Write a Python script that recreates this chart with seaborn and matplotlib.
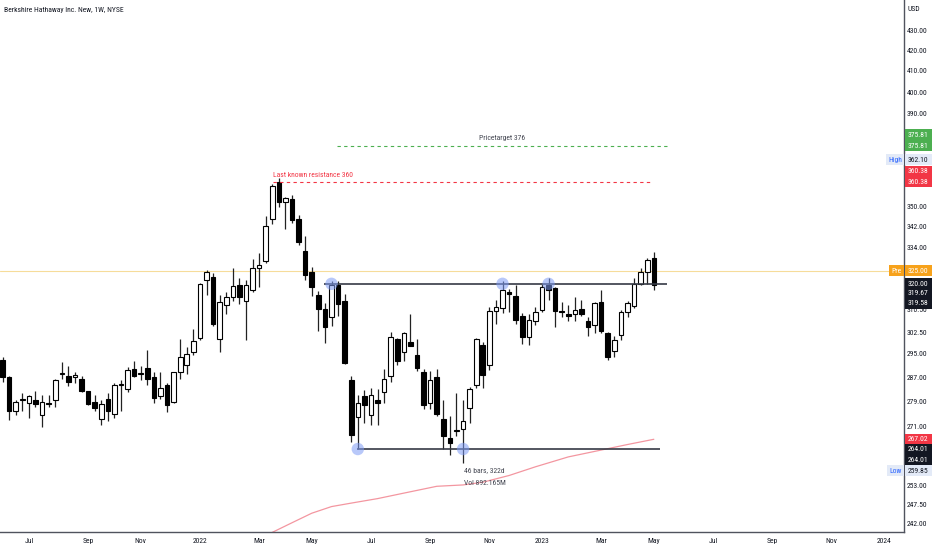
import numpy as np
import pandas as pd
import matplotlib
matplotlib.use("Agg")
import matplotlib.pyplot as plt
import matplotlib.dates as mdates
from matplotlib.ticker import FixedLocator, NullLocator, FuncFormatter
from matplotlib.patches import Rectangle
from matplotlib import font_manager
import seaborn as sns

# ---------------- data ----------------
start_week = "2021-06-07"
opens = [292.8, 287.0, 276.0, 279.4, 278.7, 279.5, 274.6, 278.7, 279.5, 288.0,
         287.4, 287.0, 286.6, 282.3, 278.8, 273.3, 279.9, 275.1, 284.6, 283.0,
         289.9, 288.2, 290.1, 287.0, 280.9, 284.4, 279.0, 288.9, 291.2, 295.6,
         300.3, 321.6, 322.4, 300.2, 312.3, 315.3, 319.7, 313.8, 317.7, 325.9,
         328.7, 344.9, 360.3, 352.1, 353.1, 345.0, 332.6, 324.6, 315.8, 310.6,
         307.7, 319.4, 313.6, 286.0, 274.0, 280.8, 274.6, 279.6, 282.0, 287.4,
         300.0, 295.5, 299.2, 294.6, 288.9, 278.4, 287.2, 273.3, 267.3, 269.5,
         270.1, 276.8, 284.4, 297.9, 291.2, 310.2, 311.1, 316.8, 315.6, 308.3,
         300.7, 306.6, 310.4, 319.4, 318.6, 310.2, 309.0, 308.8, 310.6, 306.6,
         304.9, 313.2, 302.2, 295.8, 301.4, 309.7, 311.9, 320.0, 324.6, 329.6]
closes = [287.2, 275.9, 278.8, 279.7, 280.9, 278.2, 279.0, 278.2, 286.1, 288.3,
          285.6, 287.9, 282.3, 278.1, 276.8, 278.1, 276.0, 284.4, 284.9, 289.6,
          287.4, 288.4, 286.3, 280.1, 283.3, 277.9, 288.7, 294.0, 294.9, 299.4,
          320.0, 324.3, 305.4, 313.2, 315.3, 319.1, 315.3, 319.4, 325.8, 327.1,
          342.3, 358.8, 352.1, 353.5, 344.7, 336.0, 323.3, 319.0, 310.6, 304.4,
          319.4, 312.5, 291.9, 268.3, 278.7, 277.9, 281.3, 278.6, 286.4, 300.9,
          292.5, 302.2, 297.5, 290.0, 277.9, 286.1, 275.0, 268.0, 265.9, 269.8,
          272.8, 283.0, 300.0, 287.7, 310.2, 311.3, 317.8, 316.4, 306.8, 300.7,
          306.8, 309.7, 319.0, 317.8, 310.2, 309.5, 308.1, 310.4, 308.8, 304.4,
          312.8, 302.8, 294.0, 299.7, 309.5, 313.0, 320.0, 324.6, 329.0, 319.67]
highs = [294.0, 287.5, 279.5, 281.7, 281.2, 282.6, 281.3, 281.2, 286.4, 292.2,
         290.8, 288.9, 287.3, 282.6, 281.1, 279.5, 281.7, 285.1, 286.1, 290.3,
         292.6, 290.8, 296.1, 288.9, 288.9, 285.0, 288.9, 300.0, 297.4, 303.5,
         320.4, 325.2, 324.0, 315.9, 317.1, 325.9, 322.0, 321.4, 329.3, 331.6,
         346.3, 359.6, 362.1, 354.2, 354.9, 346.5, 338.2, 326.5, 317.5, 313.0,
         321.0, 321.0, 316.3, 287.4, 281.3, 282.8, 283.3, 283.0, 289.9, 302.6,
         300.4, 302.4, 308.8, 300.0, 289.9, 289.0, 289.9, 279.5, 274.2, 281.7,
         279.5, 283.9, 300.4, 299.2, 311.4, 314.0, 321.0, 318.1, 319.4, 309.3,
         308.8, 311.3, 320.0, 322.0, 318.8, 313.4, 312.3, 315.2, 314.0, 307.8,
         313.4, 317.7, 302.7, 301.0, 310.4, 313.7, 322.0, 325.9, 329.6, 332.1]
lows = [285.5, 273.1, 274.6, 276.0, 273.7, 277.3, 271.0, 277.3, 277.3, 286.3,
        284.0, 285.0, 282.0, 277.8, 276.0, 271.4, 272.9, 273.7, 276.1, 282.2,
        287.2, 286.1, 284.4, 278.4, 279.9, 275.5, 278.4, 286.3, 288.2, 294.6,
        299.8, 315.9, 304.8, 295.5, 308.8, 313.5, 312.6, 299.7, 317.1, 318.7,
        327.8, 343.2, 349.8, 340.9, 343.4, 334.9, 321.4, 315.6, 302.9, 298.6,
        304.6, 308.4, 291.5, 266.2, 264.0, 272.1, 271.4, 271.4, 278.7, 285.3,
        291.0, 292.5, 297.5, 289.1, 276.5, 276.5, 274.4, 264.0, 262.2, 268.0,
        259.85, 272.1, 283.5, 283.4, 289.5, 305.2, 309.2, 309.5, 305.2, 298.4,
        298.0, 305.0, 309.8, 314.0, 304.4, 307.9, 306.4, 306.4, 308.3, 301.0,
        302.2, 302.2, 292.8, 293.8, 299.7, 307.8, 311.1, 319.4, 320.0, 317.8]

ma_bar_index = [40, 41, 44, 47, 50, 53, 57, 61, 66, 70, 73, 77, 81, 86, 91, 95, 99]
ma_values = [238.4, 239.6, 242.3, 245.0, 246.9, 247.9, 249.2, 250.8, 252.8, 253.2,
             254.0, 256.0, 258.6, 261.6, 263.7, 265.4, 267.02]

resistance_level = 320.0
support_level = 264.01
last_resistance = 360.38
price_target = 375.81
premarket_price = 325.0
touch_top_index = [50, 76, 83]
touch_bottom_index = [54, 70]

y_ticks = [430, 420, 410, 400, 390, 350, 342, 334, 310.5, 302.5, 295, 287,
           279, 271, 253, 247.5, 242]
x_tick_months = ["2021-07", "2021-09", "2021-11", "2022-01", "2022-03", "2022-05",
                 "2022-07", "2022-09", "2022-11", "2023-01", "2023-03", "2023-05",
                 "2023-07", "2023-09", "2023-11", "2024-01"]
x_tick_labels = ["Jul", "Sep", "Nov", "2022", "Mar", "May", "Jul", "Sep", "Nov",
                 "2023", "Mar", "May", "Jul", "Sep", "Nov", "2024"]

# ---------------- style ----------------
sns.set_theme(style="white")
entries = font_manager.fontManager.ttflist
avail = {f.name for f in entries}
narrow_names = [n for n in ["Roboto Condensed", "Liberation Sans Narrow",
                            "Open Sans Condensed", "Noto Sans Condensed"] if n in avail]
cond_sans = [f.name for f in entries
             if str(f.stretch) in ("condensed", "semi-condensed")
             and f.name in ("Noto Sans", "DejaVu Sans", "Open Sans", "Roboto", "Lato")
             and str(f.weight) in ("400", "normal", "regular")]
if narrow_names:
    plt.rcParams["font.family"] = [narrow_names[0], "DejaVu Sans"]
    FS = 5.5
elif cond_sans:
    plt.rcParams["font.family"] = [cond_sans[0], "DejaVu Sans"]
    plt.rcParams["font.stretch"] = "condensed"
    FS = 5.3
else:
    plt.rcParams["font.family"] = ["Liberation Sans", "DejaVu Sans"]
    FS = 5.0
TXT = "#131722"

W, H = 932, 550
fig = plt.figure(figsize=(W / 100, H / 100), dpi=100)
fig.patch.set_facecolor("white")
ax = fig.add_axes([0, 18 / H, 904 / W, 532 / H])
ax.set_facecolor("white")

weeks = pd.date_range(start_week, periods=len(opens), freq="W-MON")
xs = mdates.date2num(weeks)
x0 = xs[0]
day_px = 6.578 / 7.0

def xi(i):
    return x0 + 7.0 * i

ax.set_yscale("log")
ax.set_ylim(239.7, 445.3)
ax.set_xlim(x0 - 2.6 / day_px, x0 + (904 - 2.6) / day_px)

o = np.array(opens); c = np.array(closes); h = np.array(highs); l = np.array(lows)
up = c >= o
ax.vlines(xs, l, h, color="#222222", lw=0.9, zorder=2)
bw = 4.6 / day_px
bot = np.minimum(o, c)
hgt = np.maximum(np.abs(c - o), 0.25)
ax.bar(xs[up], hgt[up], bottom=bot[up], width=bw, color="white",
       edgecolor="black", linewidth=0.8, zorder=3)
ax.bar(xs[~up], hgt[~up], bottom=bot[~up], width=bw, color="black",
       edgecolor="black", linewidth=0.8, zorder=3)

# moving average
ma_df = pd.DataFrame({"x": [xi(i) for i in ma_bar_index], "y": ma_values})
sns.lineplot(data=ma_df, x="x", y="y", ax=ax, color="#f28b96", lw=0.9,
             alpha=0.9, zorder=1)

# premarket line
ax.axhline(premarket_price, color="#f6dc9a", lw=0.8, zorder=0.5)

# support / resistance lines
ax.hlines(resistance_level, xi(48.9), xi(101.0), color="#363a45", lw=1.2, zorder=4)
ax.hlines(support_level, xi(53.9), xi(99.9), color="#363a45", lw=1.2, zorder=4)
ax.hlines(last_resistance, xi(41.1), xi(98.9), color="#f23645", lw=0.8,
          linestyles=(0, (3, 3)), zorder=4)
ax.hlines(price_target, xi(50.8), xi(101.0), color="#4caf50", lw=0.8,
          linestyles=(0, (3, 3)), zorder=4)

# touch circles
pts = pd.DataFrame({
    "x": [xi(i) for i in touch_top_index] + [xi(i) for i in touch_bottom_index],
    "y": [resistance_level] * len(touch_top_index) + [support_level] * len(touch_bottom_index)})
sns.scatterplot(data=pts, x="x", y="y", ax=ax, s=80, color="#7f9cf5",
                alpha=0.55, edgecolor="none", zorder=5, legend=False)

# annotations
ax.annotate("Last known resistance 360", (xi(41.1), last_resistance),
            xytext=(0, 6.5), textcoords="offset pixels", color="#f23645",
            fontsize=FS, ha="left", va="center")
ax.annotate("Pricetarget 376", (xi(75.9), price_target),
            xytext=(0, 7.5), textcoords="offset pixels", color="#434651",
            fontsize=FS, ha="center", va="center")
ax.annotate("46 bars, 322d", (xi(70.1), support_level),
            xytext=(0, -21.5), textcoords="offset pixels", color="#434651",
            fontsize=FS, ha="left", va="center")
ax.annotate("Vol 892.165M", (xi(70.1), support_level),
            xytext=(0, -33.5), textcoords="offset pixels", color="#434651",
            fontsize=FS, ha="left", va="center")

# axes styling
ax.set_xlabel(""); ax.set_ylabel("")
ax.yaxis.tick_right()
ax.yaxis.set_major_locator(FixedLocator(y_ticks))
ax.yaxis.set_minor_locator(NullLocator())
ax.yaxis.set_major_formatter(FuncFormatter(lambda v, p: f"{v:.2f}"))
tick_pos = []
for m in x_tick_months:
    d = pd.Timestamp(m + "-01")
    first_mon = d + pd.Timedelta(days=(7 - d.weekday()) % 7)
    tick_pos.append(mdates.date2num(first_mon))
ax.set_xticks(tick_pos)
ax.set_xticklabels(x_tick_labels)
ax.tick_params(axis="both", length=0, labelsize=FS, colors=TXT)
ax.tick_params(axis="y", pad=2.0)
ax.tick_params(axis="x", pad=4)
for s in ["left", "top"]:
    ax.spines[s].set_visible(False)
for s in ["right", "bottom"]:
    ax.spines[s].set_color("#50535e")
    ax.spines[s].set_linewidth(1.0)
ax.grid(False)

fig.text(4 / W, 1 - 10 / H, "Berkshire Hathaway Inc. New, 1W, NYSE", fontsize=FS,
         color=TXT, ha="left", va="center")
fig.text(908 / W, 1 - 9 / H, "USD", fontsize=FS, color=TXT, ha="left", va="center")

# right-axis price labels
def ypix(price):
    return ax.transData.transform((x0, price))[1]

def box(x_left, width, yc, text, bg, fg):
    fig.patches.append(Rectangle((x_left / W, (yc - 5.5) / H), width / W, 11 / H,
                                 transform=fig.transFigure, facecolor=bg,
                                 edgecolor="none", zorder=10))
    fig.text((x_left + width / 2) / W, yc / H, text, fontsize=FS, color=fg,
             ha="center", va="center", zorder=11)

labels = [
    ("375.81", price_target, 11, "#4caf50", "white"),
    ("375.81", price_target, 0, "#4caf50", "white"),
    ("362.10", 362.10, 17.7, "#e3eaf7", TXT),
    ("360.38", last_resistance, 10.7, "#f23645", "white"),
    ("360.38", last_resistance, 0, "#f23645", "white"),
    ("325.00", premarket_price, 0, "#f7a21b", "white"),
    ("320.00", 320.00, 0, "#131722", "white"),
    ("319.67", 319.67, -8.3, "#131722", "white"),
    ("319.58", 319.58, -18.1, "#131722", "white"),
    ("267.02", 267.02, 0, "#f23645", "white"),
    ("264.01", support_level, 0, "#131722", "white"),
    ("264.01", support_level, -11, "#131722", "white"),
    ("259.85", 259.85, -8.3, "#e3eaf7", TXT),
]
for txt, pr, off, bg, fg in labels:
    yc = ypix(pr) + off
    box(904.5, 27.0, yc, txt, bg, fg)
    if txt == "362.10":
        box(886, 18, yc, "High", bg, "#2962ff")
    if txt == "259.85":
        box(887, 17, yc, "Low", bg, "#2962ff")
    if txt == "325.00":
        box(889, 15, yc, "Pre", bg, "white")

fig.savefig("out.png", dpi=100, facecolor="white")
